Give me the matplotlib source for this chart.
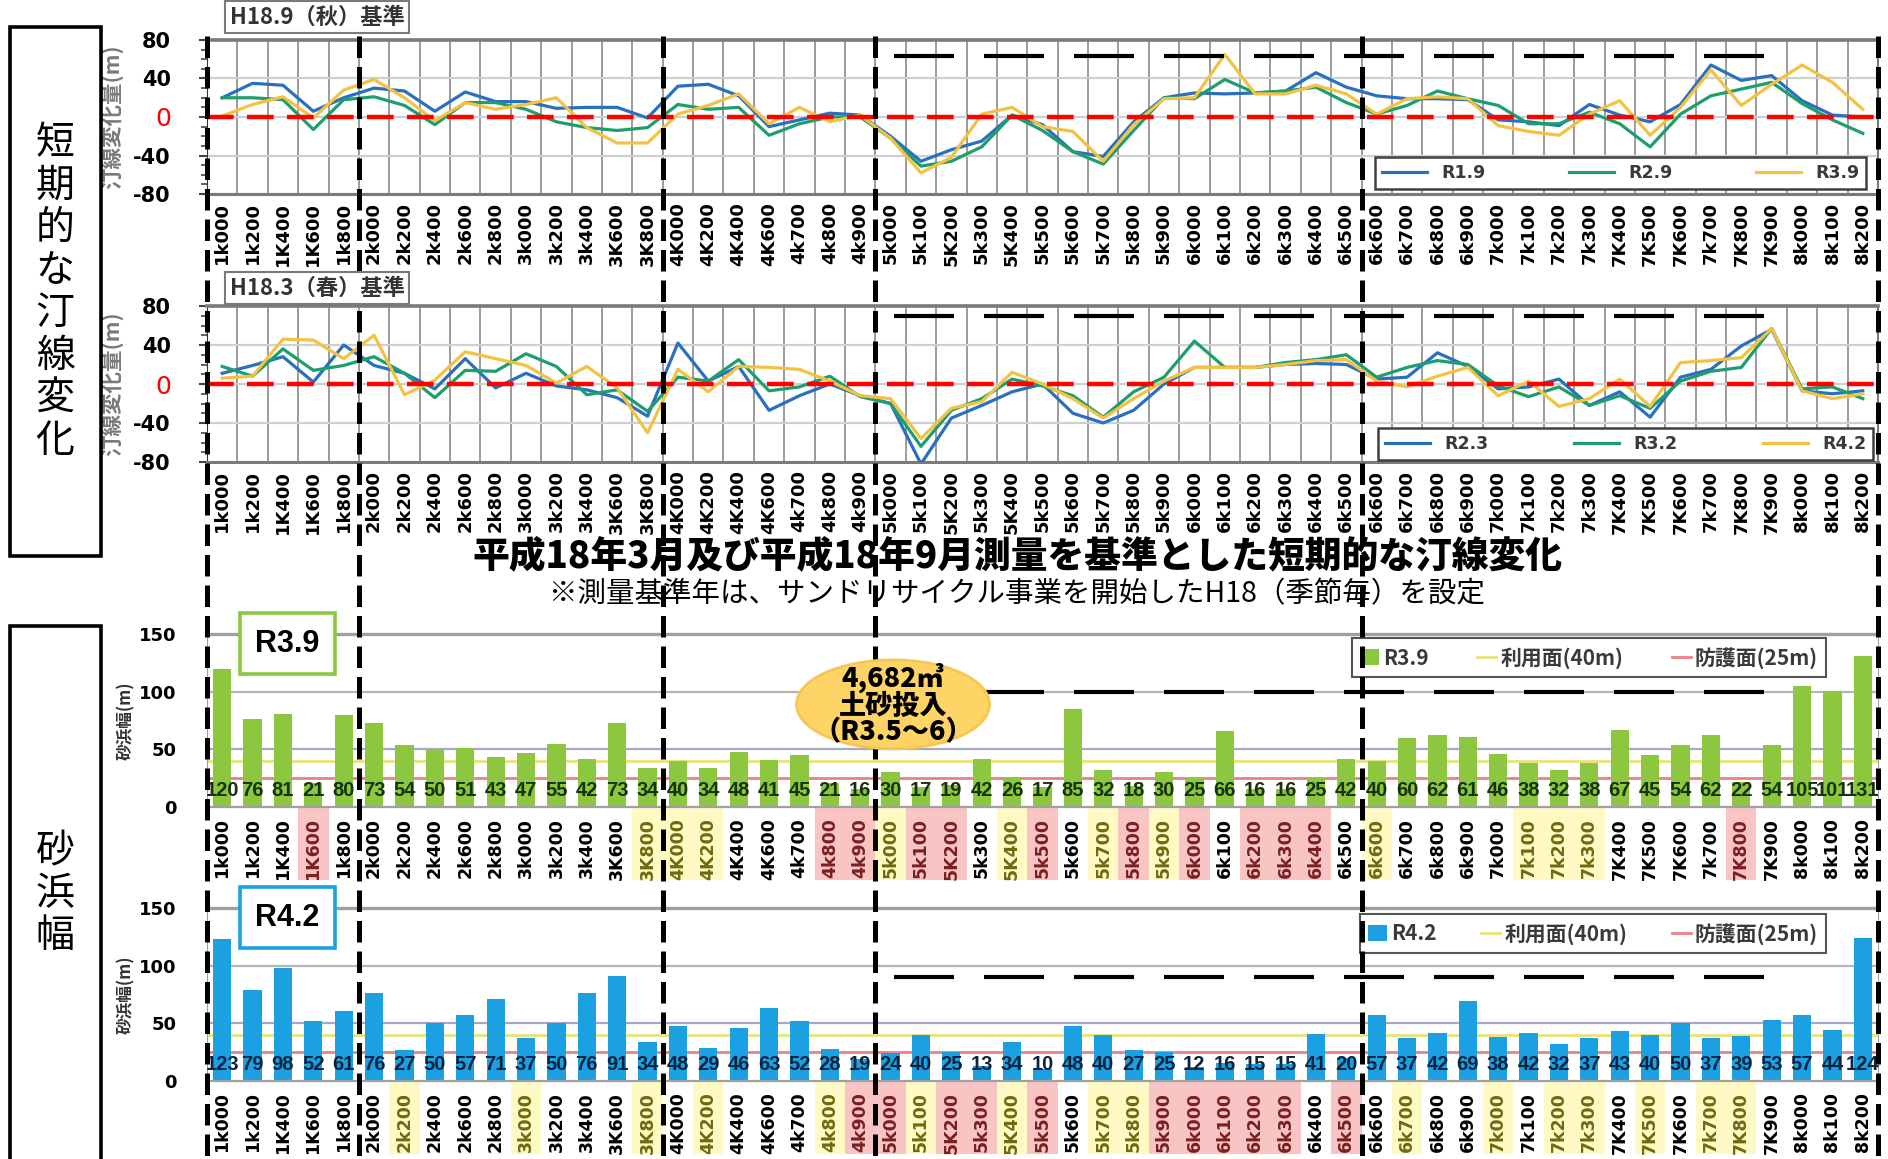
import matplotlib.pyplot as plt
import numpy as np
from matplotlib import font_manager
from matplotlib.lines import Line2D
from matplotlib.patches import Ellipse, Rectangle

plt.rcParams['font.family'] = ['Noto Sans CJK JP', 'DejaVu Sans']

_installed = {f.name for f in font_manager.fontManager.ttflist}
NARROW = 'Liberation Sans Narrow' if 'Liberation Sans Narrow' in _installed else 'Liberation Sans'

# survey stations (same for every panel)
stations = [
    '1k000', '1k200', '1K400', '1K600', '1k800', '2k000', '2k200', '2k400', '2k600', '2k800',
    '3k000', '3k200', '3k400', '3K600', '3K800', '4K000', '4K200', '4K400', '4K600', '4k700',
    '4k800', '4k900', '5k000', '5k100', '5K200', '5k300', '5K400', '5k500', '5k600', '5k700',
    '5k800', '5k900', '6k000', '6k100', '6k200', '6k300', '6k400', '6k500', '6k600', '6k700',
    '6k800', '6k900', '7k000', '7k100', '7k200', '7k300', '7K400', '7K500', '7K600', '7k700',
    '7K800', '7K900', '8k000', '8k100', '8k200',
]

# shoreline change vs H18.9 (autumn) survey [m]
chg_r1_9 = [20, 35, 33, 6, 20, 30, 27, 6, 26, 16, 16, 9, 10, 10, -1, 32, 34, 22, -10, -3,
            4, 2, -20, -46, -34, -25, 2, -8, -36, -41, -5, 20, 25, 24, 25, 27, 46, 31, 22, 19,
            19, 18, -3, -5, -9, 13, 2, -5, 13, 54, 38, 43, 17, 2, 0]
chg_r2_9 = [20, 20, 18, -13, 18, 21, 12, -8, 15, 15, 8, -5, -11, -14, -11, 13, 8, 10, -19, -7,
            0, 0, -22, -51, -46, -31, 2, -14, -36, -49, -14, 20, 19, 39, 25, 27, 31, 15, 3, 12,
            27, 19, 12, -7, -7, 5, -7, -31, 3, 22, 29, 36, 14, -3, -17]
chg_r3_9 = [1, 13, 21, -1, 28, 39, 20, -4, 15, 8, 13, 20, -11, -27, -27, 3, 12, 24, -7, 10,
            -5, 2, -22, -58, -42, 3, 10, -10, -15, -46, -8, 19, 20, 65, 24, 24, 33, 24, 3, 19,
            21, 19, -9, -15, -19, 3, 17, -19, 10, 49, 12, 34, 54, 36, 8]

# shoreline change vs H18.3 (spring) survey [m]
chg_r2_3 = [11, 19, 28, 2, 40, 19, 11, -5, 26, -4, 11, -2, -6, -14, -33, 42, 3, 18, -27, -12,
            0, -12, -20, -82, -35, -22, -8, 0, -30, -40, -27, 0, 17, 17, 17, 20, 21, 20, 5, 7,
            32, 18, -5, -3, 5, -22, -8, -34, 7, 15, 39, 56, -7, -10, -7]
chg_r3_2 = [18, 8, 36, 14, 19, 28, 11, -14, 14, 13, 31, 18, -11, -6, -28, 7, 3, 25, -7, -3,
            8, -13, -20, -64, -27, -15, 5, -2, -12, -34, -8, 7, 44, 17, 17, 22, 25, 30, 7, 17,
            24, 20, -2, -13, -3, -22, -12, -25, 3, 13, 17, 57, -5, -3, -15]
chg_r4_2 = [6, 8, 46, 45, 26, 50, -11, 4, 33, 26, 19, 1, 18, -4, -50, 15, -8, 18, 17, 15,
            3, -12, -15, -56, -25, -18, 12, 0, -15, -35, -15, 3, 17, 17, 17, 20, 24, 25, 3, -3,
            8, 17, -12, 3, -23, -15, 5, -23, 22, 24, 27, 57, -7, -15, -10]

# beach width [m]
width_r3_9 = [120, 76, 81, 21, 80, 73, 54, 50, 51, 43, 47, 55, 42, 73, 34, 40, 34, 48, 41, 45,
              21, 16, 30, 17, 19, 42, 26, 17, 85, 32, 18, 30, 25, 66, 16, 16, 25, 42, 40, 60,
              62, 61, 46, 38, 32, 38, 67, 45, 54, 62, 22, 54, 105, 101, 131]
width_r4_2 = [123, 79, 98, 52, 61, 76, 27, 50, 57, 71, 37, 50, 76, 91, 34, 48, 29, 46, 63, 52,
              28, 19, 24, 40, 25, 13, 34, 10, 48, 40, 27, 25, 12, 16, 15, 15, 41, 20, 57, 37,
              42, 69, 38, 42, 32, 37, 43, 40, 50, 37, 39, 53, 57, 44, 124]

USE_WIDTH = 40      # 利用面
PROTECT_WIDTH = 25  # 防護面

BLUE, GREEN, YELLOW = '#2B6FBF', '#1E9E6C', '#F4C243'
BAR_GREEN, BAR_BLUE = '#8DC63F', '#1BA1E2'
USE_COLOR, PROTECT_COLOR = '#E9E27A', '#EB7F86'

W, H = 1888, 1159
fig = plt.figure(figsize=(W / 100, H / 100), dpi=100)


def axes_px(left, top, right, bottom):
    return fig.add_axes([left / W, 1 - bottom / H, (right - left) / W, (bottom - top) / H])


x = np.arange(len(stations))
XLIM = (-0.5, len(stations) - 0.5)
GUIDE_X = (22.1, 50.9)  # extent of the black guide dashes


def shoreline_panel(ax, series, legend_box, guide_y):
    for name, vals, color in series:
        ax.plot(x, vals, color=color, lw=2.3, label=name, zorder=3)
    ax.set_xlim(*XLIM)
    ax.set_ylim(-80, 80)
    ax.axhline(0, color='#ff0000', lw=3.2, dashes=(6, 3), zorder=4)
    ax.plot(GUIDE_X, [guide_y, guide_y], color='black', lw=3, dashes=(14.4, 7.2), zorder=5)

    ax.set_xticks(x)
    ax.set_xticklabels(stations, rotation=90, fontsize=13, fontweight='bold', family='DejaVu Sans')
    ax.set_xticks(np.arange(-0.5, len(stations)), minor=True)
    ax.set_yticks([-80, -40, 0, 40, 80])
    ax.set_yticklabels(['-80', '-40', '0', '40', '80'], fontsize=15, fontweight='bold',
                       family='DejaVu Sans')
    zero = ax.get_yticklabels()[2]
    zero.set_color('#ff0000')
    zero.set_fontweight('normal')
    zero.set_fontsize(18)
    ax.set_yticks(np.arange(-80, 81, 10), minor=True)
    ax.tick_params(axis='x', which='both', length=0, pad=6)
    ax.tick_params(axis='y', which='major', length=6, width=1.5, color='#444444', pad=20)
    ax.tick_params(axis='y', which='minor', length=4, width=1.2, color='#444444')

    ax.grid(True, axis='x', which='minor', color='#8a8a8a', lw=1.2)
    ax.grid(True, axis='y', which='major', color='#cfcfcf', lw=1.6)
    ax.grid(False, axis='x', which='major')
    for side, lw in (('top', 2.6), ('bottom', 2.2), ('right', 1.5)):
        ax.spines[side].set_color('#7a7a7a')
        ax.spines[side].set_linewidth(lw)
    ax.spines['left'].set_color('#333333')

    ax.set_ylabel('汀線変化量(m)', fontsize=15.5, fontweight='bold', color='#7a7a7a')
    ax.yaxis.set_label_coords(-0.05, 0.5)

    leg = ax.legend(loc='lower left', bbox_to_anchor=legend_box, mode='expand', ncol=3,
                    fancybox=False, framealpha=1, edgecolor='#404040', handlelength=2.6,
                    borderaxespad=0, prop={'family': 'DejaVu Sans', 'weight': 'bold', 'size': 12.5},
                    labelcolor='#3a3a3a')
    leg.get_frame().set_linewidth(1.8)
    leg.set_zorder(6)


def width_panel(ax, vals, bar_color, value_color, tag, tag_color, legend_box, guide_y):
    ax.bar(x, vals, width=0.6, color=bar_color, zorder=2)
    ax.set_xlim(*XLIM)
    ax.set_ylim(0, 150)
    for gy, gc in ((50, '#a7a7c9'), (100, '#b5b5b5')):
        ax.axhline(gy, color=gc, lw=1.6, zorder=1)
    ax.axhline(USE_WIDTH, color=USE_COLOR, lw=2, zorder=1.5)
    ax.axhline(PROTECT_WIDTH, color=PROTECT_COLOR, lw=2, zorder=1.5)
    ax.plot(GUIDE_X, [guide_y, guide_y], color='black', lw=3, dashes=(14.4, 7.2), zorder=5)

    for xi, v in zip(x, vals):
        ax.text(xi, 14, str(v), ha='center', va='center', fontsize=14.5, fontweight='bold',
                family=NARROW, color=value_color, zorder=6)

    ax.set_xticks(x)
    ax.set_xticklabels(stations, rotation=90, fontsize=12.5, fontweight='bold', family='DejaVu Sans')
    ax.tick_params(axis='x', length=0, pad=8)
    # stations under the protection / use width get a shaded label
    for lbl, xi, v in zip(ax.get_xticklabels(), x, vals):
        if v <= PROTECT_WIDTH:
            bg, fg = '#F9C4C4', '#7A1F1F'
        elif v <= USE_WIDTH:
            bg, fg = '#FFFAC4', '#6E6A10'
        else:
            continue
        lbl.set_color(fg)
        ax.add_patch(Rectangle((xi - 0.5, -0.42), 1, 0.42, transform=ax.get_xaxis_transform(),
                               facecolor=bg, edgecolor='none', clip_on=False, zorder=0))

    ax.set_yticks([0, 50, 100, 150])
    ax.set_yticklabels(['0', '50', '100', '150'], fontsize=13, fontweight='bold', family='DejaVu Sans')
    ax.tick_params(axis='y', length=0, pad=22)
    for side in ('top', 'right', 'left', 'bottom'):
        ax.spines[side].set_color('#a0a0a0')
    ax.spines['top'].set_linewidth(2.4)
    ax.spines['bottom'].set_linewidth(1.6)
    ax.set_ylabel('砂浜幅(m)', fontsize=12, fontweight='bold', color='#333333')
    ax.yaxis.set_label_coords(-0.043, 0.5)

    handles = [Rectangle((0, 0), 1, 1, facecolor=bar_color),
               Line2D([], [], color=USE_COLOR, lw=2),
               Line2D([], [], color=PROTECT_COLOR, lw=2)]
    leg = ax.legend(handles, [tag, '利用面(40m)', '防護面(25m)'], loc='lower left',
                    bbox_to_anchor=legend_box, mode='expand', ncol=3, fancybox=False,
                    framealpha=1, edgecolor='#555555', handlelength=0.9, handleheight=0.8,
                    handletextpad=0.2, borderaxespad=0,
                    prop={'weight': 'bold', 'size': 15}, labelcolor='#3a3a3a')
    leg.get_frame().set_linewidth(1.5)
    leg.set_zorder(7)

    ax.text(0.048, 0.945, tag, transform=ax.transAxes, ha='center', va='center', fontsize=22,
            fontweight='bold', family=NARROW, zorder=8,
            bbox=dict(boxstyle='square,pad=0.5', facecolor='white', edgecolor=tag_color, lw=2.6))


ax1 = axes_px(207, 40, 1878, 194)
shoreline_panel(ax1, [('R1.9', chg_r1_9, BLUE), ('R2.9', chg_r2_9, GREEN), ('R3.9', chg_r3_9, YELLOW)],
                (0.699, 0.03, 0.294, 0.24), 63)
ax2 = axes_px(207, 306, 1878, 462)
shoreline_panel(ax2, [('R2.3', chg_r2_3, BLUE), ('R3.2', chg_r3_2, GREEN), ('R4.2', chg_r4_2, YELLOW)],
                (0.701, 0.013, 0.296, 0.175), 70)
ax3 = axes_px(207, 634, 1878, 807)
width_panel(ax3, width_r3_9, BAR_GREEN, '#17330B', 'R3.9', BAR_GREEN, (0.685, 0.751, 0.284, 0.249), 100)
ax4 = axes_px(207, 908, 1878, 1081)
width_panel(ax4, width_r4_2, BAR_BLUE, '#0B2540', 'R4.2', BAR_BLUE, (0.690, 0.74, 0.279, 0.254), 90)

# panel captions
for cy, caption in ((17, 'H18.9（秋）基準'), (288, 'H18.3（春）基準')):
    fig.text(317 / W, 1 - cy / H, caption, ha='center', va='center', fontsize=16, fontweight='bold',
             color='#333333',
             bbox=dict(boxstyle='square,pad=0.22', facecolor='white', edgecolor='#7a7a7a', lw=1.5))

# sand placement note on the R3.9 panel
fig.add_artist(Ellipse((22.08, 89), 6.35, 77, transform=ax3.transData, facecolor='#FFD467',
                       edgecolor='#F6C650', lw=2, zorder=4))
fig.text(22.08, 89, '4,682㎥\n土砂投入\n（R3.5～6）', transform=ax3.transData, ha='center',
         va='center', fontsize=19.5, fontweight='heavy', linespacing=0.92, zorder=5)

# section boundaries, drawn through all four panels
fig_tr = fig.transFigure.inverted()
for bx in (-0.5, 4.5, 14.5, 21.5, 37.5, 54.5):
    fx = fig_tr.transform(ax1.transData.transform((bx, 0)))[0]
    fig.add_artist(Line2D([fx, fx], [1 - 36 / H, 0], transform=fig.transFigure, color='black',
                          lw=3.6, dashes=(4.3, 1.8), zorder=3))

fig.text(1017 / W, 1 - 556 / H, '平成18年3月及び平成18年9月測量を基準とした短期的な汀線変化',
         ha='center', va='center', fontsize=26.5, fontweight='heavy', zorder=6)
fig.text(1017 / W, 1 - 594 / H, '※測量基準年は、サンドリサイクル事業を開始したH18（季節毎）を設定',
         ha='center', va='center', fontsize=20.5, zorder=6)

# side headings
fig.add_artist(Rectangle((10 / W, 1 - 556 / H), 91 / W, 529 / H, transform=fig.transFigure,
                         facecolor='none', edgecolor='black', lw=2.6))
fig.add_artist(Rectangle((10 / W, -0.05), 91 / W, 1 - 626 / H + 0.05, transform=fig.transFigure,
                         facecolor='none', edgecolor='black', lw=2.6))
fig.text(55 / W, 1 - 292 / H, '\n'.join('短期的な汀線変化'), ha='center', va='center',
         fontsize=28, linespacing=1.08)
fig.text(55 / W, 1 - 894 / H, '\n'.join('砂浜幅'), ha='center', va='center',
         fontsize=28, linespacing=1.08)

fig.savefig('out.png', dpi=100)
